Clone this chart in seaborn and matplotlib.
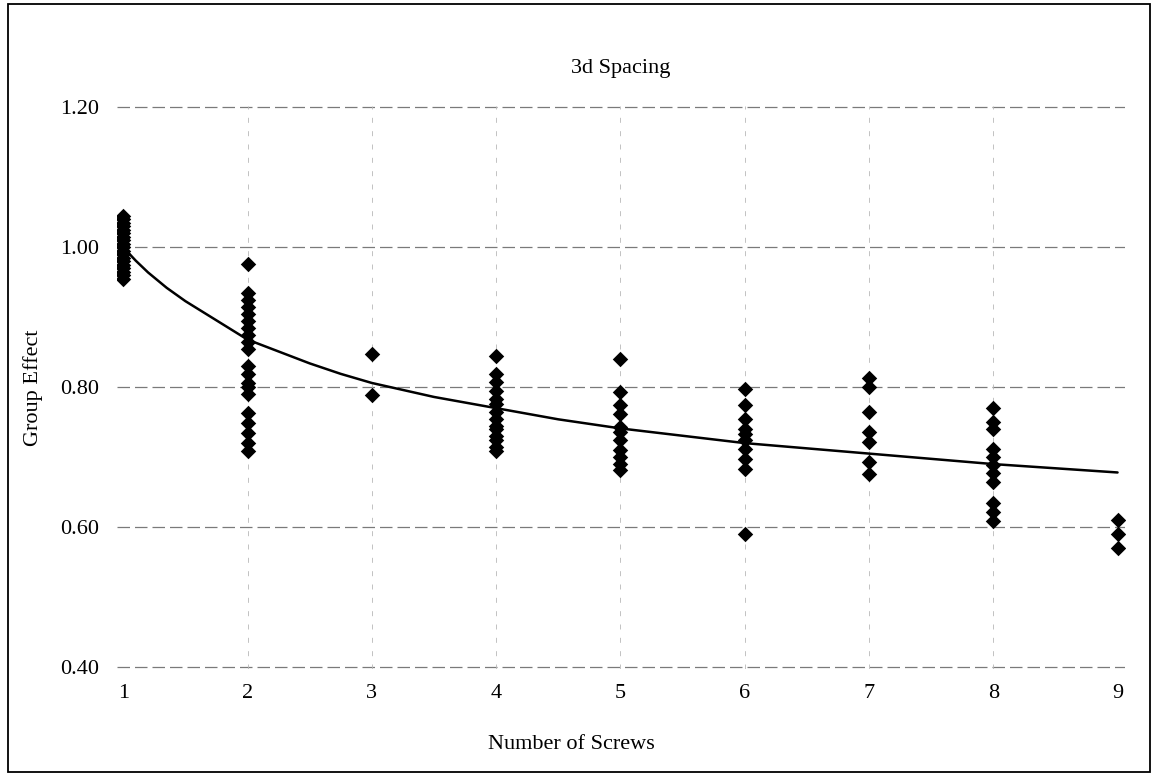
import matplotlib
matplotlib.use("Agg")
import matplotlib.pyplot as plt
import seaborn as sns
import pandas as pd
from matplotlib.patches import Rectangle

# ---- data ----
screws_1 = [0.955, 0.96, 0.965, 0.97, 0.975, 0.98, 0.985, 0.99, 0.995, 1.0,
            1.005, 1.01, 1.015, 1.02, 1.025, 1.03, 1.035, 1.04, 1.045]
screws_2 = [0.976, 0.935, 0.925, 0.915, 0.905, 0.895, 0.885, 0.875, 0.865, 0.855,
            0.83, 0.819, 0.806, 0.80, 0.79, 0.763, 0.749, 0.734, 0.72, 0.709]
screws_3 = [0.848, 0.789]
screws_4 = [0.844, 0.819, 0.807, 0.794, 0.783, 0.776, 0.765, 0.755, 0.745,
            0.74, 0.73, 0.725, 0.715, 0.708]
screws_5 = [0.84, 0.793, 0.774, 0.761, 0.743, 0.736, 0.724, 0.71, 0.70, 0.69, 0.682]
screws_6 = [0.797, 0.774, 0.754, 0.74, 0.733, 0.724, 0.711, 0.697, 0.683, 0.59]
screws_7 = [0.813, 0.80, 0.764, 0.736, 0.721, 0.693, 0.676]
screws_8 = [0.77, 0.75, 0.74, 0.712, 0.70, 0.688, 0.677, 0.665, 0.635, 0.621, 0.608]
screws_9 = [0.61, 0.59, 0.57]
groups = [screws_1, screws_2, screws_3, screws_4, screws_5,
          screws_6, screws_7, screws_8, screws_9]

trend_x = [1, 1.1, 1.2, 1.35, 1.5, 1.7, 2, 2.25, 2.5, 2.75, 3, 3.5, 4, 4.5, 5, 6, 7, 8, 9]
trend_y = [1.0, 0.981, 0.964, 0.942, 0.923, 0.901, 0.868, 0.851, 0.834, 0.819, 0.806,
           0.786, 0.77, 0.754, 0.741, 0.72, 0.705, 0.69, 0.678]

x_ticks = [1, 2, 3, 4, 5, 6, 7, 8, 9]
y_ticks = [0.40, 0.60, 0.80, 1.00, 1.20]
y_tick_labels = ["0.40", "0.60", "0.80", "1.00", "1.20"]

title = "3d Spacing"
x_label = "Number of Screws"
y_label = "Group Effect"

rows = []
for n, vals in zip(x_ticks, groups):
    for v in vals:
        rows.append({"screws": n, "effect": v})
df = pd.DataFrame(rows)
trend = pd.DataFrame({"screws": trend_x, "effect": trend_y})

# ---- drawing ----
sns.set_style("white")
plt.rcParams["font.family"] = ["Liberation Serif", "DejaVu Serif"]
plt.rcParams["text.color"] = "black"
plt.rcParams["axes.labelcolor"] = "black"
plt.rcParams["xtick.color"] = "black"
plt.rcParams["ytick.color"] = "black"

fig = plt.figure(figsize=(11.57, 7.76), dpi=100)
ax = fig.add_axes([117 / 1157, 1 - 669 / 776, (1125 - 117) / 1157, (669 - 106) / 776])

for yv in y_ticks:
    ax.axhline(yv, color="#7a7a7a", lw=0.9, ls=(0, (10, 4)), zorder=0)
for xv in [2, 3, 4, 5, 6, 7, 8]:
    ax.axvline(xv, color="#b8b8b8", lw=0.6, ls=(0, (6, 10)), zorder=0)

sns.lineplot(data=trend, x="screws", y="effect", color="black", lw=1.8,
             ax=ax, zorder=2)
sns.scatterplot(data=df, x="screws", y="effect", marker="D", s=62,
                color="black", edgecolor="black", linewidth=0, ax=ax, zorder=3)

ax.set_xlim(0.95, 9.06)
ax.set_ylim(0.397, 1.202)
ax.set_xticks(x_ticks)
ax.set_xticklabels([str(t) for t in x_ticks], fontsize=16)
ax.set_yticks(y_ticks)
ax.set_yticklabels(y_tick_labels, fontsize=16)
ax.tick_params(axis="x", length=0, pad=11)
ax.tick_params(axis="y", length=5, width=0.8, color="#555555", pad=8)
for s in ax.spines.values():
    s.set_visible(False)

ax.set_title(title, fontsize=16, pad=24, color="black")
ax.set_xlabel(x_label, fontsize=16)
ax.xaxis.set_label_coords(0.451, -0.117)
ax.set_ylabel(y_label, fontsize=16, labelpad=12)

fig.patches.append(Rectangle((8 / 1157, 4 / 776), (1150 - 8) / 1157, (772 - 4) / 776,
                             transform=fig.transFigure, fill=False,
                             edgecolor="black", lw=1.3))

fig.savefig("out.png", dpi=100)
